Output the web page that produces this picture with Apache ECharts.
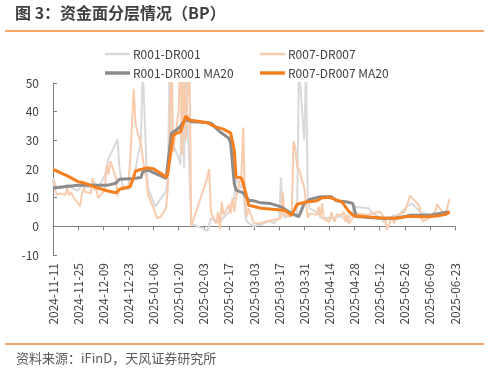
<!DOCTYPE html>
<html><head><meta charset="utf-8">
<script src="https://cdn.jsdelivr.net/npm/echarts@6/dist/echarts.min.js"></script>
<style>html,body{margin:0;padding:0;background:#fff}#c{width:490px;height:372px}</style>
</head><body><div id="c"></div>
<script>
const tickLabels = ['2024-11-11','2024-11-25','2024-12-09','2024-12-23','2025-01-06','2025-01-20','2025-02-03','2025-02-17','2025-03-03','2025-03-17','2025-03-31','2025-04-14','2025-04-28','2025-05-12','2025-05-26','2025-06-09','2025-06-23'];
const seriesNames = ['R001-DR001','R007-DR007','R001-DR001 MA20','R007-DR007 MA20'];

const r001Dates = ['2024-11-11','2024-11-13','2024-11-15','2024-11-19','2024-11-21','2024-11-25','2024-11-27','2024-11-29','2024-12-02','2024-12-04','2024-12-06','2024-12-10','2024-12-12','2024-12-13','2024-12-17','2024-12-18','2024-12-20','2024-12-23','2024-12-25','2024-12-26','2024-12-30','2024-12-31','2025-01-02','2025-01-03','2025-01-07','2025-01-08','2025-01-09','2025-01-13','2025-01-14','2025-01-15','2025-01-16','2025-01-20','2025-01-21','2025-01-22','2025-01-23','2025-01-24','2025-01-27','2025-02-05','2025-02-06','2025-02-07','2025-02-10','2025-02-12','2025-02-14','2025-02-17','2025-02-18','2025-02-20','2025-02-21','2025-02-24','2025-02-25','2025-02-26','2025-02-27','2025-02-28','2025-03-03','2025-03-05','2025-03-07','2025-03-10','2025-03-12','2025-03-14','2025-03-17','2025-03-18','2025-03-19','2025-03-20','2025-03-21','2025-03-24','2025-03-25','2025-03-27','2025-03-28','2025-03-31','2025-04-01','2025-04-02','2025-04-03','2025-04-08','2025-04-10','2025-04-14','2025-04-16','2025-04-18','2025-04-21','2025-04-24','2025-04-25','2025-04-28','2025-05-06','2025-05-08','2025-05-13','2025-05-14','2025-05-20','2025-05-22','2025-05-27','2025-05-30','2025-06-04','2025-06-10','2025-06-16','2025-06-20'];
const r001 = [16.8,13.5,13.3,14.5,13.5,12.4,14.5,13.5,14.0,15.6,13.0,18.0,23.8,25.0,30.3,20.3,13.3,13.0,15.2,16.8,30,56,22.7,13.3,6.9,6.5,8.7,12.2,16.8,56,30,23.8,21.5,56,20.3,56,1,-1.5,-1.0,2.8,1.5,1.5,3,5,7.6,10,16.8,13.3,16,4,1.6,1,-0.1,0.5,0.5,1.5,1.9,1,3,17,5,3,3.4,4,3.4,3.4,56,30,56,9,6.3,4.5,2.8,3,2.8,3.4,3.4,1.5,1.5,6.8,6.3,4.5,2.8,1.5,3.9,3.5,6.8,8,4.8,3.9,4.5,4.5];

const r007Dates = ['2024-11-11','2024-11-12','2024-11-13','2024-11-14','2024-11-15','2024-11-18','2024-11-19','2024-11-20','2024-11-21','2024-11-22','2024-11-25','2024-11-26','2024-11-27','2024-11-28','2024-11-29','2024-12-02','2024-12-03','2024-12-04','2024-12-05','2024-12-06','2024-12-09','2024-12-10','2024-12-11','2024-12-12','2024-12-13','2024-12-16','2024-12-17','2024-12-18','2024-12-19','2024-12-20','2024-12-23','2024-12-24','2024-12-26','2024-12-27','2024-12-30','2024-12-31','2025-01-02','2025-01-03','2025-01-06','2025-01-08','2025-01-09','2025-01-10','2025-01-13','2025-01-14','2025-01-15','2025-01-16','2025-01-17','2025-01-20','2025-01-21','2025-01-22','2025-01-23','2025-01-24','2025-01-26','2025-01-27','2025-02-05','2025-02-06','2025-02-07','2025-02-10','2025-02-11','2025-02-12','2025-02-13','2025-02-14','2025-02-17','2025-02-18','2025-02-19','2025-02-20','2025-02-21','2025-02-24','2025-02-25','2025-02-26','2025-02-27','2025-02-28','2025-03-03','2025-03-05','2025-03-07','2025-03-10','2025-03-14','2025-03-18','2025-03-19','2025-03-20','2025-03-21','2025-03-24','2025-03-25','2025-03-26','2025-03-27','2025-03-28','2025-03-31','2025-04-01','2025-04-02','2025-04-03','2025-04-07','2025-04-08','2025-04-09','2025-04-10','2025-04-11','2025-04-14','2025-04-15','2025-04-16','2025-04-17','2025-04-18','2025-04-21','2025-04-22','2025-04-23','2025-04-24','2025-04-25','2025-04-28','2025-04-29','2025-04-30','2025-05-06','2025-05-07','2025-05-08','2025-05-12','2025-05-14','2025-05-15','2025-05-16','2025-05-19','2025-05-20','2025-05-22','2025-05-23','2025-05-26','2025-05-27','2025-05-29','2025-06-03','2025-06-05','2025-06-09','2025-06-10','2025-06-12','2025-06-13','2025-06-16','2025-06-17','2025-06-18','2025-06-20'];
const r007 = [16.0,13.5,11.0,10.4,11.5,11.0,13.3,10.8,12.0,10.5,8.0,6.9,10.7,13.3,12.0,11.5,16.8,12.5,14.5,9.8,12.0,14.0,21.5,18.0,22.7,17.0,10.5,13.0,12.5,14.0,13.5,23.0,48.0,35.5,28.5,23.8,16.8,11.0,6.3,2.8,2.2,3.4,6.3,13.3,33.0,62,26,40,62,25,62,30,62,0,17,20,5,1,5,-1,8.5,4,7.5,4.5,10,5,10,18,34.5,9,3.4,6.3,1,1,1.2,1.8,2.2,2.8,12,3.9,3.4,3.4,29.7,27.3,21,20,13.5,8,3,4.5,4,6.9,3,8,2.5,1.6,5,3,1.6,4,4,5.1,1.6,4,1,4,3,4.5,4,4,4.5,5.1,3.5,2.5,-1.2,3.5,1,4,3.5,5.1,6.9,10.7,7.3,1.6,3,4,5.1,7.7,5,4,5,9.6];

const r001MaDates = ['2024-11-11','2024-11-25','2024-12-06','2024-12-11','2024-12-16','2024-12-18','2024-12-26','2024-12-30','2024-12-31','2025-01-03','2025-01-09','2025-01-13','2025-01-16','2025-01-20','2025-01-24','2025-01-27','2025-02-05','2025-02-07','2025-02-10','2025-02-12','2025-02-17','2025-02-18','2025-02-20','2025-02-21','2025-02-25','2025-02-28','2025-03-03','2025-03-07','2025-03-12','2025-03-18','2025-03-24','2025-03-28','2025-03-31','2025-04-03','2025-04-09','2025-04-15','2025-04-18','2025-04-24','2025-04-27','2025-04-29','2025-05-06','2025-05-13','2025-05-20','2025-05-26','2025-05-29','2025-06-09','2025-06-16','2025-06-20'];
const r001Ma = [13.4,14.3,14.3,14.3,15.0,16.4,16.7,17.0,19.0,19.6,17.9,16.7,32.4,34.2,37.3,36.5,36.2,36.0,34.2,33.0,30.7,29.0,15.0,12.6,11.7,9.1,8.9,8.2,8.0,6.8,4.5,3.4,8.0,9.4,10.3,10.3,8.9,8.5,8.0,3.4,3.1,2.8,2.8,3.4,3.9,3.9,4.7,5.0];

const r007MaDates = ['2024-11-11','2024-11-19','2024-11-25','2024-11-29','2024-12-05','2024-12-11','2024-12-16','2024-12-18','2024-12-24','2024-12-26','2024-12-27','2025-01-02','2025-01-06','2025-01-10','2025-01-13','2025-01-14','2025-01-17','2025-01-21','2025-01-24','2025-01-26','2025-02-05','2025-02-06','2025-02-10','2025-02-14','2025-02-18','2025-02-20','2025-02-21','2025-02-24','2025-02-25','2025-02-27','2025-02-28','2025-03-03','2025-03-07','2025-03-18','2025-03-20','2025-03-24','2025-03-27','2025-04-01','2025-04-07','2025-04-10','2025-04-14','2025-04-17','2025-04-21','2025-04-25','2025-04-28','2025-05-06','2025-05-13','2025-05-22','2025-05-28','2025-06-06','2025-06-13','2025-06-18','2025-06-20'];
const r007Ma = [19.9,17.6,15.6,15.0,13.6,12.4,11.7,12.9,13.8,17.3,19.3,20.4,20.1,18.5,17.1,18.5,31.9,33.0,38.5,37.1,36.1,36.0,34.6,33.9,32.5,26.6,17.2,16.9,15.0,10.3,7.3,6.9,6.3,5.7,5.6,3.9,7.7,8.5,8.9,10.0,10.1,9.4,8.5,5.0,3.6,3.3,2.9,2.8,3.5,3.3,3.6,4.2,5.0];

const BASE = Date.UTC(2024,10,11);
function dayOf(s){const p=s.split('-');return (Date.UTC(+p[0],+p[1]-1,+p[2])-BASE)/86400000;}
function pairs(ds,vs){return ds.map((d,i)=>[dayOf(d),vs[i]]);}
const tickMap = {}; tickLabels.forEach(t=>{tickMap[dayOf(t)]=t;});

const font = '"Noto Sans CJK SC","Noto Sans",sans-serif';
const chart = echarts.init(document.getElementById('c'), null, {renderer:'canvas'});
const colors = ['#D9D9D9','#F8CBAD','#8C8C8C','#F57F1E'];
const widths = [2,2,3,3];
const datasets = [pairs(r001Dates,r001),pairs(r007Dates,r007),pairs(r001MaDates,r001Ma),pairs(r007MaDates,r007Ma)];
const legendPos = [[100,43],[255,43],[100,62],[255,62]];
const legendH = [2.5,2.5,3.5,3.5];

chart.setOption({
  animation:false,
  textStyle:{fontFamily:font},
  grid:{left:53,right:35,top:83,bottom:117,containLabel:false},
  legend:seriesNames.map((n,i)=>({left:legendPos[i][0],top:legendPos[i][1],height:14,itemWidth:25,itemHeight:legendH[i],icon:'rect',
    data:[n],textStyle:{fontSize:12,color:'#404040',fontFamily:font,padding:[0,0,0,-2]}})),
  xAxis:{type:'value',min:0,max:dayOf(tickLabels[tickLabels.length-1]),interval:14,
    axisLine:{onZero:true,lineStyle:{color:'#7f7f7f',width:1}},
    axisTick:{show:true,inside:false,length:4,lineStyle:{color:'#7f7f7f'}},
    axisLabel:{rotate:90,margin:8,fontSize:12,color:'#404040',fontFamily:font,formatter:v=>tickMap[v]||''},
    splitLine:{show:false}},
  yAxis:{type:'value',min:-10,max:50,interval:10,
    axisLine:{show:true,lineStyle:{color:'#7f7f7f',width:1}},
    axisTick:{show:true,inside:true,length:4,lineStyle:{color:'#7f7f7f'}},
    axisLabel:{fontSize:12,color:'#404040',margin:14,fontFamily:font},
    splitLine:{show:false}},
  series:datasets.map((d,i)=>({name:seriesNames[i],type:'line',data:d,symbol:'none',showSymbol:false,clip:true,
    lineStyle:{color:colors[i],width:widths[i]},itemStyle:{color:colors[i]},z:2+i})),
  graphic:[
    {type:'text',left:15,top:5,style:{text:'图 3：资金面分层情况（BP）',font:'bold 16px '+font,fill:'#404040'}},
    {type:'line',shape:{x1:5,y1:31,x2:484,y2:31},style:{stroke:'#F0892E',lineWidth:1.5}},
    {type:'line',shape:{x1:5,y1:344,x2:484,y2:344},style:{stroke:'#F0892E',lineWidth:1.5}},
    {type:'text',left:16,top:352,style:{text:'资料来源：iFinD，天风证券研究所',font:'13px '+font,fill:'#595959'}}
  ]
});
</script></body></html>
